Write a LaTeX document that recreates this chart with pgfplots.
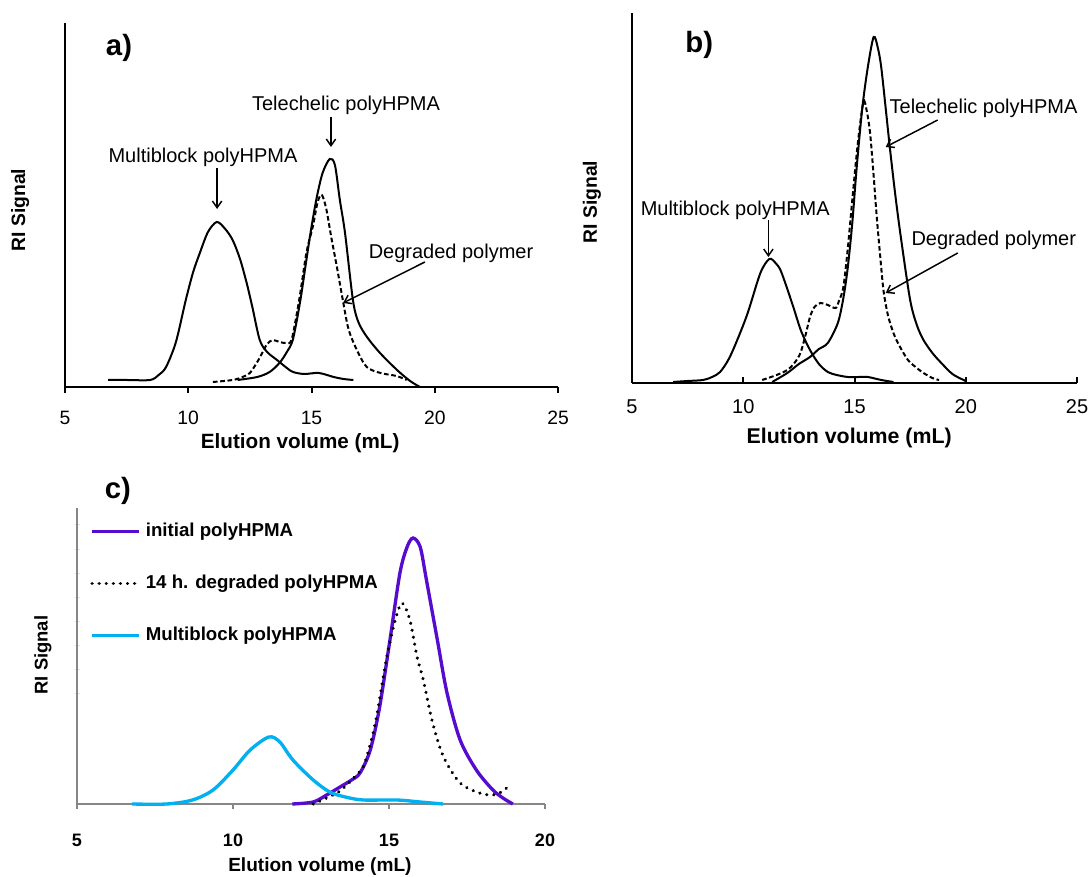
\documentclass[border=0pt]{standalone}
\usepackage{pgfplots}
\pgfplotsset{compat=1.18}
\usetikzlibrary{arrows.meta}
\usepackage{fontspec}
\setmainfont{Liberation Sans}

\definecolor{initpurple}{RGB}{86,12,206}
\definecolor{mbcyan}{RGB}{0,176,240}
\definecolor{axgray}{RGB}{134,134,134}

\pgfplotsset{
  gpc/.style={
    scale only axis, anchor=south west, clip=false,
    axis lines=left,
    axis line style={line width=2.2pt, black, -},
    ymin=0, xmin=5, xmax=25,
    xtick={5,10,15,20,25}, ytick=\empty,
    /pgf/number format/assume math mode=true,
    tick style={line width=1.5pt, black},
    major tick length=4.5pt,
  },
}
\tikzset{
  ann/.style={font=\fontsize{15}{18}\selectfont, inner sep=0pt},
  pt/.style={-{Straight Barb[length=5pt,width=7pt]}, line width=1.1pt},
  tag/.style={font=\bfseries\fontsize{22}{26}\selectfont, inner sep=0pt},
}

\begin{document}
\begin{tikzpicture}
\useasboundingbox (0,0) rectangle (818.25pt,657.75pt);

% ---------- a) ----------
\begin{axis}[gpc, at={(48.75pt,367.5pt)}, width=369.75pt, height=273pt, ymax=364,
  tick align=outside,
  xticklabel style={font=\fontsize{14.5}{17}\selectfont, yshift=-10pt},
  xlabel={Elution volume (mL)}, ylabel={RI Signal},
  xlabel style={font=\bfseries\fontsize{15.5}{18}\selectfont, at={(axis description cs:0.477,-0.154)}, anchor=center},
  ylabel style={font=\bfseries\fontsize{14.5}{17}\selectfont, at={(axis description cs:-0.091,0.486)}, anchor=center},
]
\addplot[smooth, line width=1.5pt] coordinates {
(6.75,7) (7.5,7) (8.45,7) (8.8,12) (9.1,20) (9.5,45) (9.9,87) (10.2,115) (10.47,134)
(10.8,155) (11.16,165) (11.5,158) (11.8,147) (12.1,128) (12.37,104) (12.6,80) (12.9,47)
(13.2,35) (13.6,27) (14.0,19) (14.25,15) (14.7,13) (15.3,14) (15.9,10) (16.3,8) (16.7,7)};
\addplot[smooth, line width=1.5pt] coordinates {
(12.0,7) (12.8,10) (13.3,15) (13.7,24) (14.0,35) (14.25,48) (14.55,87) (14.75,120)
(14.96,154) (15.2,188) (15.45,214) (15.74,228) (15.95,222) (16.15,187) (16.36,154)
(16.68,87) (16.9,65) (17.25,50) (17.78,34) (18.47,17) (19.0,6) (19.4,0)};
\addplot[smooth, line width=1.5pt, dash pattern=on 3.5pt off 2pt] coordinates {
(11.0,5) (11.8,7) (12.2,10) (12.5,14) (12.8,25) (13.0,34) (13.2,43) (13.43,47) (13.7,45)
(14.0,44) (14.2,48) (14.5,87) (14.8,135) (15.05,160) (15.25,185) (15.42,192) (15.6,178)
(15.8,150) (16.03,120) (16.27,87) (16.5,58) (16.84,37) (17.24,20) (17.8,14) (18.45,11) (18.86,7)};
\node[tag] at (axis cs:7.19,339) {a)};
\node[ann] at (axis cs:16.4,282) {Telechelic polyHPMA};
\draw[pt] (axis cs:15.79,270) -- (axis cs:15.79,240);
\node[ann] at (axis cs:10.6,230) {Multiblock polyHPMA};
\draw[pt] (axis cs:11.17,219) -- (axis cs:11.17,178);
\node[ann] at (axis cs:20.66,134) {Degraded polymer};
\draw[pt] (axis cs:19.6,125) -- (axis cs:16.28,84);
\end{axis}

% ---------- b) ----------
\begin{axis}[gpc, at={(474pt,370.5pt)}, width=333.75pt, height=277.5pt, ymax=370,
  tick align=inside,
  xticklabel style={font=\fontsize{15}{18}\selectfont, yshift=-9pt},
  xlabel={Elution volume (mL)}, ylabel={RI Signal},
  xlabel style={font=\bfseries\fontsize{16}{19}\selectfont, at={(axis description cs:0.488,-0.149)}, anchor=center},
  ylabel style={font=\bfseries\fontsize{14.5}{17}\selectfont, at={(axis description cs:-0.09,0.489)}, anchor=center},
]
\addplot[smooth, line width=1.5pt] coordinates {
(6.85,1) (7.5,2) (8.2,3) (8.6,6) (8.96,11) (9.35,24) (9.73,43) (10.2,70) (10.77,110)
(11.17,124) (11.45,120) (11.67,113) (11.95,96) (12.25,76) (12.6,52) (13.0,33) (13.4,19)
(13.8,11) (14.2,8) (14.7,6) (15.2,6) (15.6,6) (16.2,3) (16.75,1)};
\addplot[smooth, line width=1.5pt] coordinates {
(11.3,1) (11.98,10) (12.5,19) (13.0,26) (13.4,34) (13.8,40) (14.25,60) (14.5,85) (14.7,116)
(14.9,160) (15.1,216) (15.35,275) (15.6,316) (15.86,346) (16.05,335) (16.2,316) (16.4,275)
(16.6,233) (16.85,185) (17.1,143) (17.5,83) (17.8,58) (18.1,43) (18.5,30) (18.9,20)
(19.4,9) (19.9,3) (20.0,2)};
\addplot[smooth, line width=1.5pt, dash pattern=on 3.5pt off 2pt] coordinates {
(10.85,3) (11.5,8) (11.98,13) (12.3,20) (12.57,30) (12.8,48) (13.0,66) (13.2,76) (13.47,80)
(13.8,78) (14.15,75) (14.3,82) (14.5,96) (14.7,135) (14.9,183) (15.15,240) (15.4,281)
(15.55,272) (15.7,250) (15.85,210) (16.0,166) (16.15,128) (16.3,93) (16.5,68) (16.75,50)
(17.0,38) (17.4,23) (17.8,15) (18.1,10) (18.5,5) (18.8,3)};
\node[tag] at (axis cs:8.02,338) {b)};
\node[ann] at (axis cs:20.8,275) {Telechelic polyHPMA};
\draw[pt] (axis cs:18.74,263) -- (axis cs:16.4,236);
\node[ann] at (axis cs:9.64,173) {Multiblock polyHPMA};
\draw[pt] (axis cs:11.13,163) -- (axis cs:11.13,126);
\node[ann] at (axis cs:21.26,143) {Degraded polymer};
\draw[pt] (axis cs:19.64,130) -- (axis cs:16.4,90);
\end{axis}

% ---------- c) ----------
\begin{axis}[gpc, at={(57.75pt,54.75pt)}, width=351pt, height=222pt, ymax=296, xmax=20,
  xtick={5,10,15,20},
  axis line style={line width=1.5pt, axgray, -},
  x tick style={line width=1.2pt, axgray},
  tick align=outside, major tick length=3.75pt,
  ytick={111,135,159,183,207,231,255,280},
  yticklabels={},
  y tick style={line width=0.6pt, black!12},
  ytick align=center,
  xticklabel style={font=\bfseries\fontsize{13.5}{16}\selectfont, yshift=-15pt},
  xlabel={Elution volume (mL)}, ylabel={RI Signal},
  xlabel style={font=\bfseries\fontsize{14.3}{17}\selectfont, at={(axis description cs:0.519,-0.213)}, anchor=center},
  ylabel style={font=\bfseries\fontsize{13.8}{16}\selectfont, at={(axis description cs:-0.073,0.503)}, anchor=center},
  legend style={draw=none, fill=none, inner sep=0pt, at={(axis description cs:0.028,0.952)}, anchor=north west,
    font=\bfseries\fontsize{14}{16}\selectfont, row sep=25.5pt,
    nodes={inner sep=0pt, text height=10.5pt, text depth=3pt}},
  legend cell align=left,
  legend image code/.code={\draw[#1] (0pt,0pt) -- (35pt,0pt);},
]
\addplot[smooth, line width=2.5pt, initpurple] coordinates {
(11.9,0) (12.57,2) (13.0,9) (13.43,17) (13.8,24) (14.07,31) (14.4,54) (14.7,97) (15.03,164)
(15.35,231) (15.58,257) (15.77,266) (16.0,257) (16.2,224) (16.55,164) (16.86,111) (17.28,64)
(17.8,34) (18.33,14) (18.7,5) (18.97,0)};
\addlegendentry{\hspace{4pt}initial polyHPMA}
\addplot[smooth, line width=2.6pt, black, line cap=round, dash pattern=on 0.01pt off 5.3pt] coordinates {
(12.57,0) (13.0,6) (13.43,13) (13.8,24) (14.17,37) (14.4,60) (14.6,87) (14.93,147) (15.2,184)
(15.42,201) (15.67,184) (15.9,147) (16.1,124) (16.4,81) (16.75,47) (17.28,21) (17.9,11)
(18.33,9) (18.6,12) (18.77,16)};
\addlegendentry{\hspace{4pt}14 h. degraded polyHPMA}
\addplot[smooth, line width=2.5pt, mbcyan] coordinates {
(6.76,0) (7.87,0) (8.7,4) (9.36,14) (10.0,34) (10.55,54) (11.15,67) (11.5,62) (11.92,44)
(12.57,24) (13.1,12) (13.6,7) (14.17,4) (15.25,4) (16.0,2) (16.73,0)};
\addlegendentry{\hspace{4pt}Multiblock polyHPMA}
\node[tag] at (axis cs:6.31,313) {c)};
\end{axis}
\end{tikzpicture}
\end{document}
